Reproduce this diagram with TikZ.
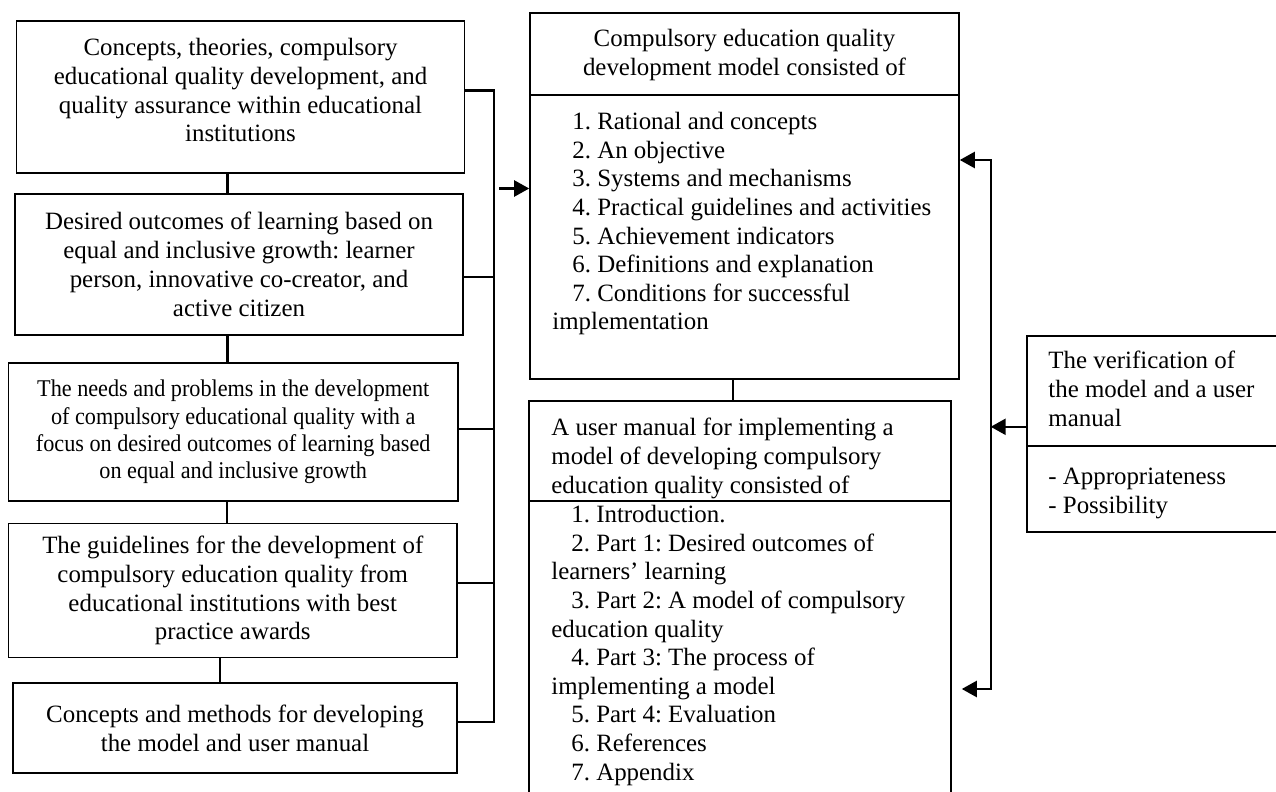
\documentclass[tikz,border=0pt]{standalone}
\usepackage{fontspec}
\setmainfont{Liberation Serif}
\newfontfamily\narrowserif[FakeStretch=0.925]{Liberation Serif}
\usetikzlibrary{arrows.meta}
\frenchspacing

\begin{document}
\begin{tikzpicture}[x=0.5pt, y=-0.5pt,
  box/.style={draw, line width=0.8pt, align=center, inner sep=2pt,
    font=\fontsize{12.45}{14.4}\selectfont},
  panel/.style={draw, line width=0.8pt, inner sep=0pt},
  txt/.style={anchor=north west, align=left, inner sep=0pt,
    font=\fontsize{12.45}{14.3}\selectfont},
  link/.style={line width=1.2pt},
  arr/.style={line width=1.2pt, -{Triangle[length=7.5pt,width=8pt]}}]

  % Frame
  \useasboundingbox (0,0) rectangle (1276,792);
  \clip (0,0) rectangle (1276,792);

  % Left column
  \node[box, minimum width=224pt, minimum height=76pt, text depth=7pt] (theory) at (240.5,97)
    {Concepts, theories, compulsory\\educational quality development, and\\quality assurance within educational\\institutions};
  \node[box, minimum width=224pt, minimum height=70.5pt] (outcome) at (239,264.5)
    {Desired outcomes of learning based on\\equal and inclusive growth: learner\\person, innovative co-creator, and\\active citizen};
  \node[box, minimum width=224.75pt, minimum height=69pt, font=\narrowserif\fontsize{12}{13.6}\selectfont] (needs) at (233.25,432)
    {The needs and problems in the development\\of compulsory educational quality with a\\focus on desired outcomes of learning based\\on equal and inclusive growth};
  \node[box, minimum width=224.25pt, minimum height=67pt] (guide) at (232.75,590.5)
    {The guidelines for the development of\\compulsory education quality from\\educational institutions with best\\practice awards};
  \node[box, line width=1.4pt, minimum width=222pt, minimum height=45pt] (method) at (235,728)
    {Concepts and methods for developing\\the model and user manual};

  % Links between left boxes
  \draw[link] ([xshift=-6.6pt]theory.south) -- ([xshift=-6.6pt]theory.south |- outcome.north);
  \draw[link] ([xshift=-5.85pt]outcome.south) -- ([xshift=-5.85pt]outcome.south |- needs.north);
  \draw[link] ([xshift=-3pt]needs.south) -- ([xshift=-3pt]needs.south |- guide.north);
  \draw[link] ([xshift=-6.5pt]guide.south) -- ([xshift=-6.5pt]guide.south |- method.north);

  % Bus line
  \coordinate (bustop) at (494,90.7);
  \coordinate (busbot) at (494,722);
  \draw[link] (theory.east |- bustop) -- (bustop) -- (busbot) -- (method.east |- busbot);
  \draw[link] ([yshift=-6.25pt]outcome.east) -- ([yshift=-6.25pt]outcome.east -| bustop);
  \draw[link] ([yshift=1.5pt]needs.east) -- ([yshift=1.5pt]needs.east -| bustop);
  \draw[link] ([yshift=3.75pt]guide.east) -- ([yshift=3.75pt]guide.east -| bustop);

  % Model box
  \node[panel, minimum width=214.5pt, minimum height=183pt] (model) at (744.5,196) {};
  \draw[link, line width=1pt] (model.west |- 0,95.5) -- (model.east |- 0,95.5);
  \node[align=center, inner sep=0pt, font=\fontsize{12.45}{14.3}\selectfont] (modelhead) at (744.5,55)
    {Compulsory education quality\\development model consisted of};
  \node[txt] (modellist) at (552,112)
    {\hspace*{10pt}1. Rational and concepts\\
     \hspace*{10pt}2. An objective\\
     \hspace*{10pt}3. Systems and mechanisms\\
     \hspace*{10pt}4. Practical guidelines and activities\\
     \hspace*{10pt}5. Achievement indicators\\
     \hspace*{10pt}6. Definitions and explanation\\
     \hspace*{10pt}7. Conditions for successful\\
     implementation};

  % Arrow into the model
  \coordinate (busout) at (499,188.5);
  \draw[arr] (busout) -- (busout -| model.west);

  % User manual box
  \node[panel, minimum width=211pt, minimum height=199.5pt] (manual) at (740,600.5) {};
  \draw[link, line width=1pt] (manual.west |- 0,501) -- (manual.east |- 0,501);
  \draw[link] ([xshift=-5.75pt]model.south) -- ([xshift=-5.75pt]model.south |- manual.north);
  \node[txt] (manualhead) at (551,418)
    {A user manual for implementing a\\
     model of developing compulsory\\
     education quality consisted of};
  \node[txt] (manuallist) at (551,505)
    {\hspace*{10pt}1. Introduction.\\
     \hspace*{10pt}2. Part 1: Desired outcomes of\\
     learners’ learning\\
     \hspace*{10pt}3. Part 2: A model of compulsory\\
     education quality\\
     \hspace*{10pt}4. Part 3: The process of\\
     implementing a model\\
     \hspace*{10pt}5. Part 4: Evaluation\\
     \hspace*{10pt}6. References\\
     \hspace*{10pt}7. Appendix};

  % Verification box
  \node[panel, minimum width=131.5pt, minimum height=98pt] (verify) at (1158.5,434) {};
  \draw[link, line width=1pt] (verify.west |- 0,446) -- (verify.east |- 0,446);
  \node[txt] (verifyhead) at (1048,351)
    {The verification of\\the model and a user\\manual};
  \node[txt] (verifylist) at (1048,468)
    {- Appropriateness\\- Possibility};

  % Feedback arrows
  \coordinate (fbtop) at (990.7,160);
  \coordinate (fbbot) at (990.7,689);
  \draw[arr] ([yshift=3.6pt]verify.west) -- ([yshift=3.6pt]verify.west -| fbtop);
  \draw[arr] (fbbot) -- (fbtop) -- (fbtop -| model.east);
  \draw[arr] (fbtop) -- (fbbot) -- ([xshift=5pt]fbbot -| manual.east);
\end{tikzpicture}
\end{document}
